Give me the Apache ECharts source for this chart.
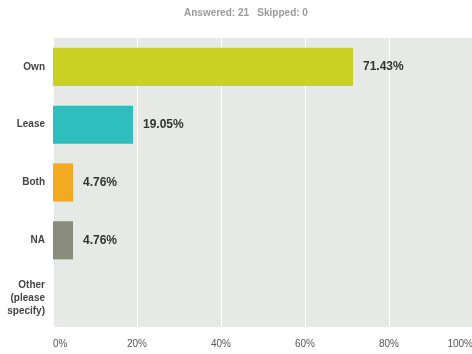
<!DOCTYPE html>
<html>
<head>
<meta charset="utf-8">
<script src="https://cdn.jsdelivr.net/npm/echarts@6/dist/echarts.min.js"></script>
<style>
  html, body { margin: 0; padding: 0; background: #ffffff; }
  #chart { width: 472px; height: 354px; }
</style>
</head>
<body>
<div id="chart"></div>
<script>
// Survey responses: ownership of the premises
const categories = ['Own', 'Lease', 'Both', 'NA', 'Other\n(please\nspecify)'];
const percents = [71.43, 19.05, 4.76, 4.76, 0];
const barColors = ['#c9d125', '#30bdbd', '#f1aa21', '#8a8c7c', '#999999'];
const tickValues = [0, 20, 40, 60, 80, 100];
const answered = 21;
const skipped = 0;

const chart = echarts.init(document.getElementById('chart'), null, { renderer: 'canvas' });

chart.setOption({
  animation: false,
  backgroundColor: '#ffffff',
  title: {
    text: 'Answered: ' + answered + '   Skipped: ' + skipped,
    left: 179,
    top: 3,
    textStyle: {
      fontFamily: 'Liberation Sans, Arial, sans-serif',
      fontSize: 10,
      fontWeight: 'bold',
      color: '#9a9a9a'
    }
  },
  grid: {
    left: 53,
    top: 38,
    width: 420,
    height: 289,
    containLabel: false,
    outerBoundsMode: 'none',
    show: true,
    backgroundColor: '#e6e9e6',
    borderWidth: 0
  },
  xAxis: {
    type: 'value',
    min: tickValues[0],
    max: tickValues[tickValues.length - 1],
    interval: 20,
    axisLine: { show: false },
    axisTick: { show: false },
    splitLine: { show: true, lineStyle: { color: '#ffffff', width: 1 } },
    axisLabel: {
      formatter: '{value}%',
      margin: 12,
      alignMinLabel: 'left',
      alignMaxLabel: 'right',
      fontFamily: 'Liberation Sans, Arial, sans-serif',
      fontSize: 10,
      color: '#555555'
    }
  },
  yAxis: {
    type: 'category',
    data: categories,
    inverse: true,
    axisLine: { show: false },
    axisTick: { show: false },
    splitLine: { show: false },
    axisLabel: {
      margin: 8,
      align: 'right',
      lineHeight: 13,
      fontFamily: 'Liberation Sans, Arial, sans-serif',
      fontSize: 10,
      fontWeight: 'bold',
      color: '#444444'
    }
  },
  series: [{
    type: 'bar',
    barWidth: '66%',
    data: percents.map((v, i) => ({
      value: v,
      itemStyle: { color: barColors[i] },
      label: { show: v > 0 }
    })),
    label: {
      position: 'right',
      distance: 10,
      formatter: p => p.value.toFixed(2) + '%',
      fontFamily: 'Liberation Sans, Arial, sans-serif',
      fontSize: 12,
      fontWeight: 'bold',
      color: '#333333'
    }
  }]
});
</script>
</body>
</html>
